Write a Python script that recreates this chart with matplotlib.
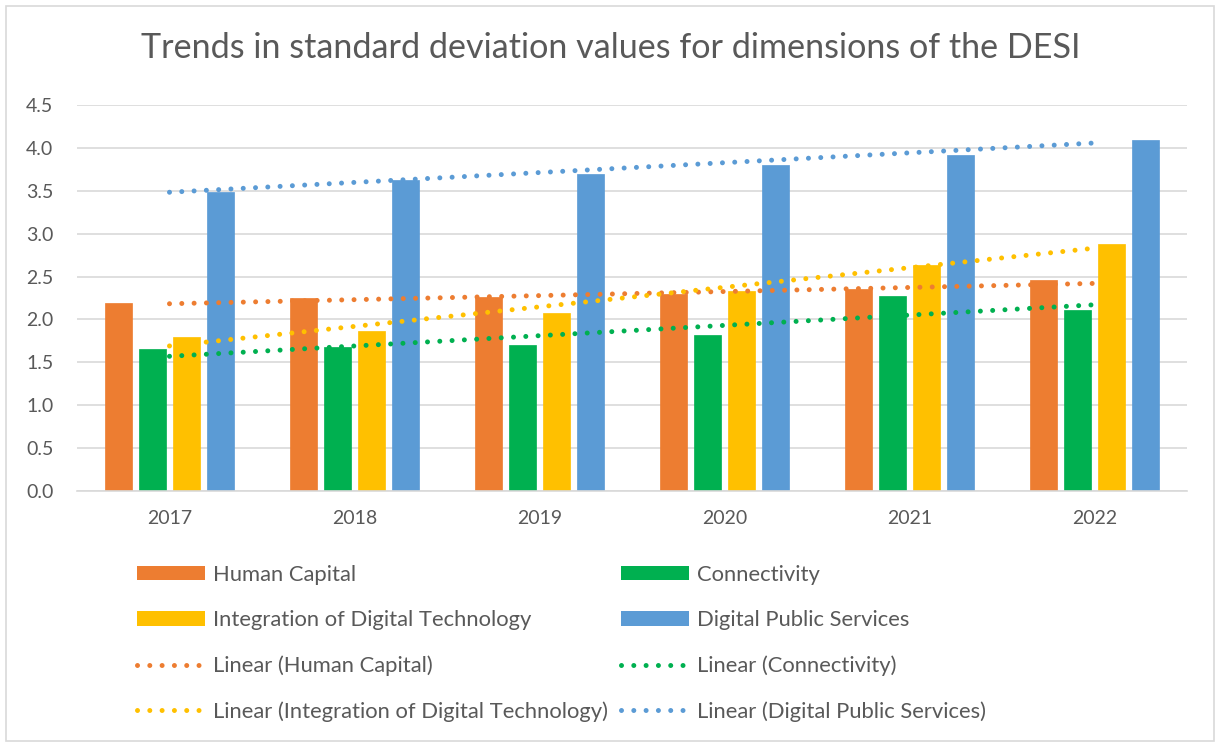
import numpy as np
import matplotlib
matplotlib.use("Agg")
import matplotlib.pyplot as plt
from matplotlib.patches import Rectangle, Patch
from matplotlib.lines import Line2D

plt.rcParams['font.family'] = ['Lato', 'DejaVu Sans']

years = ["2017", "2018", "2019", "2020", "2021", "2022"]
human_capital = [2.19, 2.25, 2.265, 2.30, 2.35, 2.455]
connectivity = [1.65, 1.675, 1.70, 1.82, 2.27, 2.11]
integration = [1.79, 1.865, 2.075, 2.33, 2.63, 2.876]
public_services = [3.48, 3.63, 3.70, 3.80, 3.92, 4.09]

series_names = ["Human Capital", "Connectivity",
                "Integration of Digital Technology", "Digital Public Services"]
colors = ["#ED7D31", "#00B050", "#FFC000", "#5B9BD5"]
series = [human_capital, connectivity, integration, public_services]

W, H = 1222, 742
fig = plt.figure(figsize=(W / 100, H / 100), dpi=100)
ax = fig.add_axes([77 / W, 1 - 491 / H, (1187 - 77) / W, (491 - 105) / H])

x = np.arange(len(years))
bw = 27 / 185
step = 33.7 / 185
offsets = [-1.5 * step, -0.5 * step, 0.5 * step, 1.5 * step]

for vals, off, c in zip(series, offsets, colors):
    ax.bar(x + off, vals, width=bw, color=c, edgecolor=c, linewidth=0.5, zorder=2)

lw = 3.6
dot_style = (0, (0.001, 2.46))
for vals, c in zip(series, colors):
    k, b = np.polyfit(x, vals, 1)
    ax.plot(x, k * x + b, color=c, lw=lw, linestyle=dot_style,
            dash_capstyle='round', zorder=3)

ax.set_xlim(-0.5, len(years) - 0.5)
ax.set_ylim(0, 4.5)
ax.set_yticks(np.arange(0, 4.51, 0.5))
ax.set_yticklabels([f"{v:.1f}" for v in np.arange(0, 4.51, 0.5)])
ax.set_xticks(x)
ax.set_xticklabels(years)
ax.yaxis.grid(True, color="#D9D9D9", linewidth=1.2, zorder=0)
ax.set_axisbelow(True)
for s in ["top", "right", "left"]:
    ax.spines[s].set_visible(False)
ax.spines["bottom"].set_color("#D9D9D9")
ax.spines["bottom"].set_linewidth(1.2)
ax.tick_params(axis="both", length=0, labelsize=14, labelcolor="#595959")
ax.tick_params(axis="y", pad=17)
ax.tick_params(axis="x", pad=14)

fig.text(0.5, 1 - 48 / H, "Trends in standard deviation values for dimensions of the DESI",
         ha="center", va="center", fontsize=24.6, color="#595959")

# legend
col1 = [Patch(facecolor=colors[0]), Patch(facecolor=colors[2]),
        Line2D([], [], color=colors[0], lw=lw, linestyle=dot_style, dash_capstyle='round'),
        Line2D([], [], color=colors[2], lw=lw, linestyle=dot_style, dash_capstyle='round')]
lab1 = [series_names[0], series_names[2],
        f"Linear ({series_names[0]})", f"Linear ({series_names[2]})"]
col2 = [Patch(facecolor=colors[1]), Patch(facecolor=colors[3]),
        Line2D([], [], color=colors[1], lw=lw, linestyle=dot_style, dash_capstyle='round'),
        Line2D([], [], color=colors[3], lw=lw, linestyle=dot_style, dash_capstyle='round')]
lab2 = [series_names[1], series_names[3],
        f"Linear ({series_names[1]})", f"Linear ({series_names[3]})"]

leg_kw = dict(frameon=False, fontsize=15.8, labelcolor="#595959", handlelength=3.1,
              handleheight=0.62, handletextpad=0.36, labelspacing=1.15,
              borderaxespad=0, borderpad=0)
fig.legend(col1, lab1, loc="upper left",
           bbox_to_anchor=(137 / W, 1 - 565 / H), **leg_kw)
fig.legend(col2, lab2, loc="upper left",
           bbox_to_anchor=(621 / W, 1 - 565 / H), **leg_kw)

fig.patches.append(Rectangle((6 / W, 1 / H), (1214 - 6) / W, (736 - 1) / H,
                             transform=fig.transFigure, fill=False,
                             edgecolor="#D9D9D9", linewidth=1.2))

fig.savefig("out.png", dpi=100)
